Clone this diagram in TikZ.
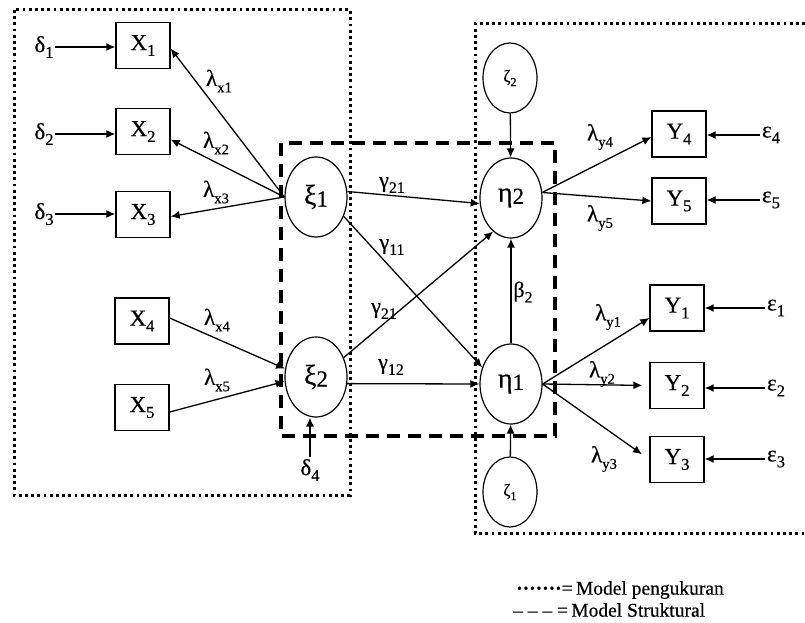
\documentclass[tikz,border=0pt]{standalone}
\usepackage{fontspec}
\setmainfont{Liberation Serif}[FakeBold=0.5]
\usetikzlibrary{shapes.geometric,arrows.meta}

% lowered, smaller index set relative to the current font
\newcommand{\subsc}[1]{\raisebox{-0.25em}{\scalebox{0.72}{#1}}}
\newcommand{\smsub}[1]{\raisebox{-0.28em}{\scalebox{0.64}{#1}}}
\newcommand{\digit}[1]{\raisebox{-0.08em}{\scalebox{0.82}{#1}}}

\tikzset{
  obs/.style={draw, line width=1.3pt, minimum width=54pt, minimum height=46pt,
              inner sep=0pt, font=\fontsize{23}{26}\selectfont},
  lat/.style={draw, ellipse, line width=1.2pt, minimum width=62pt, minimum height=80pt,
              inner sep=0pt, font=\fontsize{28}{30}\selectfont},
  dist/.style={draw, ellipse, line width=1.2pt, minimum width=54pt, minimum height=70pt,
               inner sep=0pt, font=\fontsize{17}{19}\selectfont},
  err/.style={inner sep=1.5pt, font=\fontsize{23}{26}\selectfont},
  lab/.style={inner sep=0pt, font=\fontsize{23}{26}\selectfont},
  glab/.style={inner sep=0pt, font=\fontsize{22}{25}\selectfont},
  arr/.style={-{Latex[length=9pt,width=8pt]}, line width=1.3pt},
  meas/.style={line width=3pt, dash pattern=on 2.8pt off 3.4pt},
  struc/.style={line width=3.6pt, dash pattern=on 13pt off 8pt},
  legend/.style={anchor=west, inner sep=0pt, font=\fontsize{19.5}{20}\selectfont}
}

\begin{document}
\begin{tikzpicture}[x=1pt, y=-1pt]
\useasboundingbox (0,0) rectangle (805,623);

% measurement (dotted) and structural (dashed) frames
\draw[meas] (14,10) rectangle (350,495);
\draw[meas] (805,24) -- (475,24) -- (475,533) -- (805,533);
\draw[struc] (281,143) rectangle (555,436);

% observed indicators
\node[obs] (X1) at (143,45.5)  {X\subsc{1}};
\node[obs] (X2) at (143,131.5) {X\subsc{2}};
\node[obs] (X3) at (143,214.5) {X\subsc{3}};
\node[obs] (X4) at (142,321)   {X\subsc{4}};
\node[obs] (X5) at (142,407.5) {X\subsc{5}};
\node[obs] (Y4) at (679,134)   {Y\subsc{4}};
\node[obs] (Y5) at (679,201)   {Y\subsc{5}};
\node[obs] (Y1) at (677,308)   {Y\subsc{1}};
\node[obs] (Y2) at (677,385.5) {Y\subsc{2}};
\node[obs] (Y3) at (677,459.5) {Y\subsc{3}};

% latent variables
\node[lat] (xi1)  at (316,197) {ξ\digit{1}};
\node[lat] (xi2)  at (316,377) {ξ\digit{2}};
\node[lat] (eta2) at (511,198) {η\digit{2}};
\node[lat] (eta1) at (511,384) {η\digit{1}};
\node[dist] (zeta2) at (510,78)  {ζ\subsc{2}};
\node[dist] (zeta1) at (510,492) {ζ\subsc{1}};

% error terms
\node[err] (d1) at (44,47)  {δ\subsc{1}};
\node[err] (d2) at (44,134) {δ\subsc{2}};
\node[err] (d3) at (44,214) {δ\subsc{3}};
\node[err] (d4) at (310,470) {δ\subsc{4}};
\node[err] (e4) at (771,135) {ε\subsc{4}};
\node[err] (e5) at (771,200) {ε\subsc{5}};
\node[err] (e1) at (776,308) {ε\subsc{1}};
\node[err] (e2) at (776,388) {ε\subsc{2}};
\node[err] (e3) at (776,459) {ε\subsc{3}};

% error arrows
\draw[arr] (d1) -- (d1 -| X1.west);
\draw[arr] (d2) -- (d2 -| X2.west);
\draw[arr] (d3) -- (d3 -| X3.west);
\draw[arr] (d4) -- (d4 |- xi2.south);
\draw[arr] (e4) -- (e4 -| Y4.east);
\draw[arr] (e5) -- (e5 -| Y5.east);
\draw[arr] (e1) -- (e1 -| Y1.east);
\draw[arr] (e2) -- (e2 -| Y2.east);
\draw[arr] (e3) -- (e3 -| Y3.east);

% loadings of the exogenous part
\draw[arr] (xi1.west) -- ([yshift=-3pt]X1.east);
\draw[arr] (xi1.west) -- ([yshift=-8pt]X2.east);
\draw[arr] (xi1.west) -- ([yshift=-2pt]X3.east);
\draw[arr] ([yshift=3pt]X4.east) -- (xi2.165);
\draw[arr] ([yshift=-4.5pt]X5.east) -- (xi2.188);

% structural paths
\draw[arr] (xi1.10)  -- (eta2.190);
\draw[arr] (xi1.-35) -- (eta1.150);
\draw[arr] (xi2.35)  -- (eta2.-118);
\draw[arr] (xi2.-12) -- (eta1.west);
\draw[arr] (eta1) -- (eta2);
\draw[arr] (zeta2) -- (eta2);
\draw[arr] (zeta1) -- (eta1);

% loadings of the endogenous part
\draw[arr] (eta2.10) -- ([yshift=-3pt]Y4.west);
\draw[arr] (eta2.10) -- (Y5.west);
\draw[arr] (eta1.east) -- ([yshift=-10pt]Y1.west);
\draw[arr, shorten >=7pt] (eta1.east) -- (Y2.west);
\draw[arr, shorten >=9pt] (eta1.east) -- (Y3.west);

% path labels
\node[lab] (lx1) at (219,81)  {λ\smsub{x1}};
\node[lab] (lx2) at (216,143) {λ\smsub{x2}};
\node[lab] (lx3) at (216,192) {λ\smsub{x3}};
\node[lab] (lx4) at (217,320) {λ\smsub{x4}};
\node[lab] (lx5) at (217,380) {λ\smsub{x5}};
\node[glab] (g21a) at (392,185) {γ\subsc{21}};
\node[glab] (g11)  at (392,247) {γ\subsc{11}};
\node[glab] (g21b) at (384,311) {γ\subsc{21}};
\node[glab] (g12)  at (391,367) {γ\subsc{12}};
\node[glab] (b2)   at (523,292) {β\subsc{2}};
\node[lab] (ly4) at (600,137) {λ\smsub{y4}};
\node[lab] (ly5) at (600,218) {λ\smsub{y5}};
\node[lab] (ly1) at (608,317) {λ\smsub{y1}};
\node[lab] (ly2) at (602,374) {λ\smsub{y2}};
\node[lab] (ly3) at (604,459) {λ\smsub{y3}};

% key
\node[legend] (k1) at (516,590) {\textbf{·······}=\,Model pengukuran};
\node[legend] (k2) at (513,610) {– – – =\,Model Struktural};
\end{tikzpicture}
\end{document}
